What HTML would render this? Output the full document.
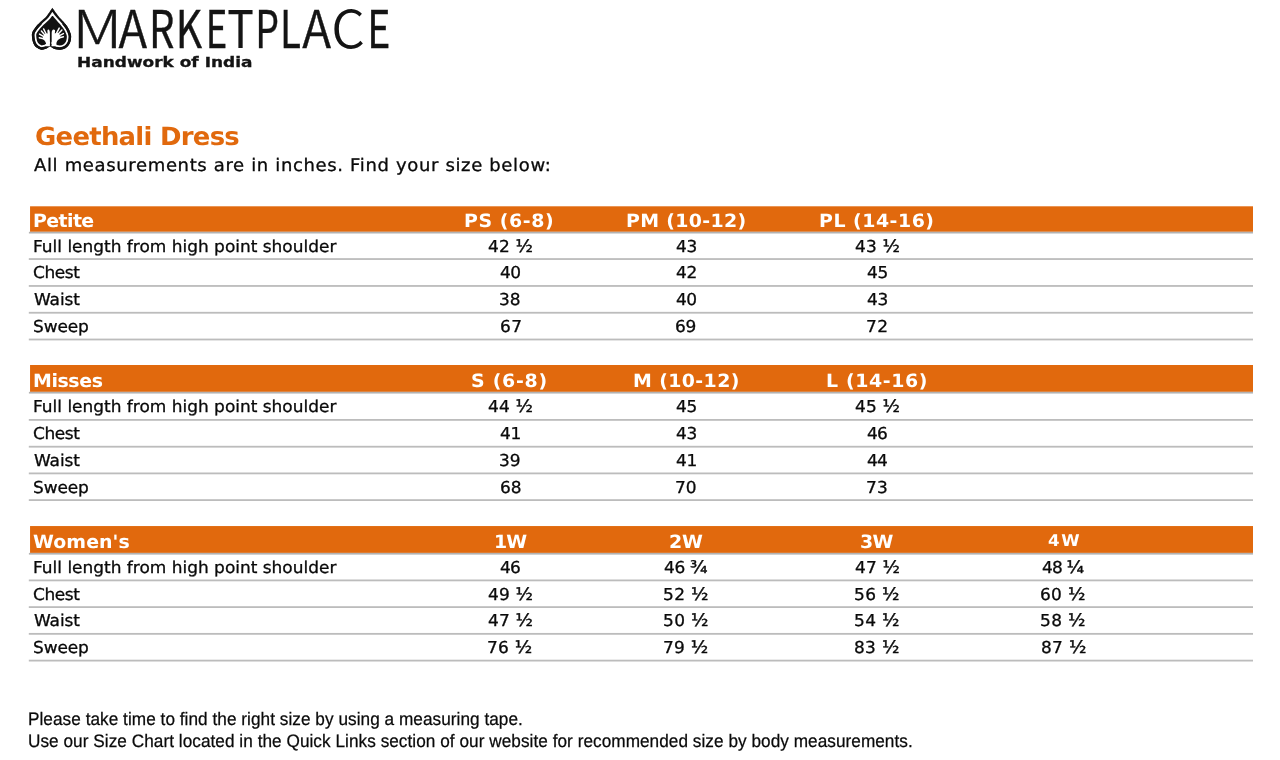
<!DOCTYPE html>
<html lang="en"><head><meta charset="utf-8"><title>Geethali Dress - Size Chart</title>
<style>
html,body{margin:0;padding:0;background:#fff;}
body{width:1280px;height:760px;position:relative;overflow:hidden;font-family:"DejaVu Sans", "Liberation Sans", sans-serif;}
.t{position:absolute;white-space:pre;text-rendering:geometricPrecision;display:block;transform-origin:0 100%;transform:translateY(-100%);}
.v{transform:translateY(-100%) scaleX(1.035);-webkit-text-stroke:0.3px currentColor;}
.b{-webkit-text-stroke:0;}
.a{transform:translateY(-100%) scaleX(0.955);-webkit-text-stroke:0.25px currentColor;}
.f{font-size:1.06em;-webkit-text-stroke:0.45px currentColor;}
#logo,#rules{position:absolute;left:0;top:0;}
</style></head><body>
<svg id="logo" width="420" height="80" viewBox="0 0 420 80">
<g id="leaf">
<defs><clipPath id="lc2"><rect x="28" y="24" width="48" height="30"/></clipPath><clipPath id="lc"><path id="lp" d="M52.35,7.75 C53.34,9.11 56.42,13.56 58.30,15.90 C60.17,18.24 61.98,19.83 63.60,21.80 C65.22,23.77 66.95,26.05 68.00,27.70 C69.05,29.35 69.38,30.35 69.90,31.70 C70.42,33.05 70.98,34.25 71.10,35.80 C71.22,37.35 70.98,39.47 70.60,41.00 C70.22,42.53 69.67,43.80 68.80,45.00 C67.93,46.20 66.82,47.42 65.40,48.20 C63.98,48.98 61.92,49.53 60.30,49.70 C58.68,49.87 56.98,49.50 55.70,49.20 C54.42,48.90 53.52,48.38 52.60,47.90 C51.68,47.42 50.60,46.57 50.20,46.30 C49.80,46.53 48.67,47.23 47.80,47.70 C46.93,48.17 46.12,48.77 45.00,49.10 C43.88,49.43 42.43,49.92 41.10,49.70 C39.77,49.48 38.12,48.55 37.00,47.80 C35.88,47.05 35.10,46.23 34.40,45.20 C33.70,44.17 33.22,43.23 32.80,41.60 C32.38,39.97 31.93,37.05 31.90,35.40 C31.87,33.75 32.05,32.98 32.60,31.70 C33.15,30.42 33.88,29.35 35.20,27.70 C36.52,26.05 38.58,23.77 40.50,21.80 C42.42,19.83 44.73,18.24 46.70,15.90 C48.68,13.56 51.41,9.11 52.35,7.75 Z"/></clipPath></defs>
<g clip-path="url(#lc)" stroke-linejoin="miter" stroke-miterlimit="10">
<use href="#lp" fill="#111" stroke="#fff" stroke-width="8.6"/>
<use href="#lp" fill="none" stroke="#111" stroke-width="4.6"/>
<use href="#lp" fill="none" stroke="#111" stroke-width="5.1" clip-path="url(#lc2)"/>
</g>
<g fill="#fff">
<path d="M49.9,46.2 L49.9,33 C49.9,31 49.4,29.6 48.5,29.4 C47.6,29.3 47.3,30.2 47.4,31.2 L47.6,33.6 L46.2,33.4 C44.4,34 43.2,35.4 42.9,37 C42.7,38.2 43,39.2 43.6,39.8 C44.8,40.8 45.8,42 46,43.6 C46.1,44.8 45.8,45.6 45.2,46.2 Z"/>
<path d="M51.5,46.2 L51.5,33 C51.5,31 52.4,29.6 53.6,29.4 C54.8,29.4 55.2,30.2 55.1,31.2 L54.8,33.4 L56.4,32.8 C58.4,33 60,34.4 60.4,36.2 C60.6,37.4 60.2,38.4 59.4,39 C57.8,39.8 56.6,41.4 56.4,43.2 C56.3,44.6 56.8,45.6 57.6,46.2 Z"/>
</g>
<path d="M46.2,34 L43.6,28.9 M44.8,35 L41.4,31.1 M43.8,36.6 L39.5,34.1 M43.6,38.8 L39.3,37.7 M56.6,33.2 L59.2,28.1 M58.2,34 L61.9,30.1 M59.4,35.6 L63.4,33.6 M59.8,37.8 L63.4,36.8" stroke="#fff" stroke-linecap="round" fill="none" stroke-width="1.45"/>
<path d="M50.7,29 L50.7,45" stroke="#111" stroke-width="1.3" fill="none"/>
</g>
<text id="mk" y="47.85" font-family="'Noto Sans CJK JP', 'Noto Sans CJK SC', 'DejaVu Sans', 'Liberation Sans', sans-serif" font-size="51.8" fill="#141414"><tspan font-weight="300" stroke="#141414" stroke-width="0.4" x="72.28" textLength="50.24" lengthAdjust="spacingAndGlyphs">M</tspan><tspan font-weight="350" stroke="#141414" stroke-width="0.4" x="118.45" textLength="28.61" lengthAdjust="spacingAndGlyphs">A</tspan><tspan font-weight="400" stroke="#141414" stroke-width="0.4" x="149.10" textLength="25.46" lengthAdjust="spacingAndGlyphs">R</tspan><tspan font-weight="400" stroke="#141414" stroke-width="0.4" x="175.63" textLength="26.37" lengthAdjust="spacingAndGlyphs">K</tspan><tspan font-weight="400" stroke="#141414" stroke-width="0.4" x="205.85" textLength="21.52" lengthAdjust="spacingAndGlyphs">E</tspan><tspan font-weight="400" stroke="#141414" stroke-width="0.2" x="227.31" textLength="26.58" lengthAdjust="spacingAndGlyphs">T</tspan><tspan font-weight="400" stroke="#141414" stroke-width="0.4" x="255.36" textLength="23.73" lengthAdjust="spacingAndGlyphs">P</tspan><tspan font-weight="400" stroke="#141414" stroke-width="0.4" x="279.96" textLength="20.91" lengthAdjust="spacingAndGlyphs">L</tspan><tspan font-weight="350" stroke="#141414" stroke-width="0.4" x="302.25" textLength="28.81" lengthAdjust="spacingAndGlyphs">A</tspan><tspan font-weight="350" x="331.37" textLength="33.59" lengthAdjust="spacingAndGlyphs">C</tspan><tspan font-weight="400" stroke="#141414" stroke-width="0.4" x="367.29" textLength="23.12" lengthAdjust="spacingAndGlyphs">E</tspan></text>
<text id="hw" x="77.1" y="66.9" stroke="#141414" stroke-width="0.3" font-family="'DejaVu Sans', 'Liberation Sans', sans-serif" font-weight="700" font-size="13.3" fill="#141414" textLength="175.3" lengthAdjust="spacingAndGlyphs">Handwork of India</text>
</svg>

<svg id="rules" width="1280" height="760" viewBox="0 0 1280 760">
<rect x="30.05" y="206.30" width="1222.95" height="25.50" fill="#e1690d"/>
<rect x="28.9" y="231.80" width="1224.1" height="1.7" fill="#b2b2b2"/>
<rect x="28.8" y="258.15" width="1224.2" height="1.8" fill="#bcbcbc"/>
<rect x="28.8" y="285.05" width="1224.2" height="1.8" fill="#bcbcbc"/>
<rect x="28.8" y="311.85" width="1224.2" height="1.8" fill="#bcbcbc"/>
<rect x="28.8" y="338.60" width="1224.2" height="1.8" fill="#bcbcbc"/>
<rect x="30.05" y="365.00" width="1222.95" height="26.85" fill="#e1690d"/>
<rect x="28.9" y="391.85" width="1224.1" height="1.7" fill="#b2b2b2"/>
<rect x="28.8" y="419.00" width="1224.2" height="1.8" fill="#bcbcbc"/>
<rect x="28.8" y="445.80" width="1224.2" height="1.8" fill="#bcbcbc"/>
<rect x="28.8" y="472.50" width="1224.2" height="1.8" fill="#bcbcbc"/>
<rect x="28.8" y="499.20" width="1224.2" height="1.8" fill="#bcbcbc"/>
<rect x="30.05" y="526.05" width="1222.95" height="26.85" fill="#e1690d"/>
<rect x="28.9" y="552.90" width="1224.1" height="1.7" fill="#b2b2b2"/>
<rect x="28.8" y="579.50" width="1224.2" height="1.8" fill="#bcbcbc"/>
<rect x="28.8" y="606.20" width="1224.2" height="1.8" fill="#bcbcbc"/>
<rect x="28.8" y="632.95" width="1224.2" height="1.8" fill="#bcbcbc"/>
<rect x="28.8" y="659.70" width="1224.2" height="1.8" fill="#bcbcbc"/>
</svg>
<span class="t v b" style='font:700 25px/1 "DejaVu Sans", "Liberation Sans", sans-serif;color:#e1690d;left:35.19px;top:149.00px;letter-spacing:-0.680px;'>Geethali Dress</span>
<span class="t v" style='font:400 17.4px/1 "DejaVu Sans", "Liberation Sans", sans-serif;color:#0a0a0a;left:33.95px;top:175.41px;letter-spacing:0.629px;'>All measurements are in inches. Find your size below:</span>
<span class="t v b" style='font:700 18.3px/1 "DejaVu Sans", "Liberation Sans", sans-serif;color:#fff;left:33.13px;top:231.30px;letter-spacing:-0.562px;'>Petite</span>
<span class="t v b" style='font:700 18.3px/1 "DejaVu Sans", "Liberation Sans", sans-serif;color:#fff;left:464.22px;top:231.30px;letter-spacing:0.567px;'>PS (6-8)</span>
<span class="t v b" style='font:700 18.3px/1 "DejaVu Sans", "Liberation Sans", sans-serif;color:#fff;left:625.99px;top:231.30px;letter-spacing:0.335px;'>PM (10-12)</span>
<span class="t v b" style='font:700 18.3px/1 "DejaVu Sans", "Liberation Sans", sans-serif;color:#fff;left:819.22px;top:231.30px;letter-spacing:0.502px;'>PL (14-16)</span>
<span class="t v" style='font:400 16.4px/1 "DejaVu Sans", "Liberation Sans", sans-serif;color:#0a0a0a;left:32.72px;top:255.41px;'>Full length from high point shoulder</span>
<span class="t v" style='font:400 16.4px/1 "DejaVu Sans", "Liberation Sans", sans-serif;color:#0a0a0a;left:488.42px;top:256.41px;letter-spacing:0.132px;'>42 <span class="f">½</span></span>
<span class="t v" style='font:400 16.4px/1 "DejaVu Sans", "Liberation Sans", sans-serif;color:#0a0a0a;left:675.65px;top:255.41px;letter-spacing:-0.403px;'>43</span>
<span class="t v" style='font:400 16.4px/1 "DejaVu Sans", "Liberation Sans", sans-serif;color:#0a0a0a;left:854.96px;top:256.41px;letter-spacing:0.132px;'>43 <span class="f">½</span></span>
<span class="t v" style='font:400 16.4px/1 "DejaVu Sans", "Liberation Sans", sans-serif;color:#0a0a0a;left:33.35px;top:281.41px;letter-spacing:-0.415px;'>Chest</span>
<span class="t v" style='font:400 16.4px/1 "DejaVu Sans", "Liberation Sans", sans-serif;color:#0a0a0a;left:500.01px;top:281.41px;letter-spacing:-0.547px;'>40</span>
<span class="t v" style='font:400 16.4px/1 "DejaVu Sans", "Liberation Sans", sans-serif;color:#0a0a0a;left:675.51px;top:281.41px;letter-spacing:-0.193px;'>42</span>
<span class="t v" style='font:400 16.4px/1 "DejaVu Sans", "Liberation Sans", sans-serif;color:#0a0a0a;left:866.94px;top:281.41px;letter-spacing:-0.184px;'>45</span>
<span class="t v" style='font:400 16.4px/1 "DejaVu Sans", "Liberation Sans", sans-serif;color:#0a0a0a;left:33.89px;top:308.41px;letter-spacing:-0.088px;'>Waist</span>
<span class="t v" style='font:400 16.4px/1 "DejaVu Sans", "Liberation Sans", sans-serif;color:#0a0a0a;left:499.24px;top:308.41px;letter-spacing:-0.061px;'>38</span>
<span class="t v" style='font:400 16.4px/1 "DejaVu Sans", "Liberation Sans", sans-serif;color:#0a0a0a;left:675.51px;top:308.41px;letter-spacing:-0.547px;'>40</span>
<span class="t v" style='font:400 16.4px/1 "DejaVu Sans", "Liberation Sans", sans-serif;color:#0a0a0a;left:866.85px;top:308.41px;letter-spacing:-0.403px;'>43</span>
<span class="t v" style='font:400 16.4px/1 "DejaVu Sans", "Liberation Sans", sans-serif;color:#0a0a0a;left:33.22px;top:335.41px;letter-spacing:-0.112px;'>Sweep</span>
<span class="t v" style='font:400 16.4px/1 "DejaVu Sans", "Liberation Sans", sans-serif;color:#0a0a0a;left:500.12px;top:335.41px;letter-spacing:0.469px;'>67</span>
<span class="t v" style='font:400 16.4px/1 "DejaVu Sans", "Liberation Sans", sans-serif;color:#0a0a0a;left:674.78px;top:335.41px;letter-spacing:-0.174px;'>69</span>
<span class="t v" style='font:400 16.4px/1 "DejaVu Sans", "Liberation Sans", sans-serif;color:#0a0a0a;left:865.52px;top:335.41px;letter-spacing:0.441px;'>72</span>
<span class="t v b" style='font:700 18.3px/1 "DejaVu Sans", "Liberation Sans", sans-serif;color:#fff;left:33.13px;top:391.30px;letter-spacing:-0.389px;'>Misses</span>
<span class="t v b" style='font:700 18.3px/1 "DejaVu Sans", "Liberation Sans", sans-serif;color:#fff;left:471.19px;top:391.30px;letter-spacing:0.723px;'>S (6-8)</span>
<span class="t v b" style='font:700 18.3px/1 "DejaVu Sans", "Liberation Sans", sans-serif;color:#fff;left:632.99px;top:391.30px;letter-spacing:0.377px;'>M (10-12)</span>
<span class="t v b" style='font:700 18.3px/1 "DejaVu Sans", "Liberation Sans", sans-serif;color:#fff;left:825.77px;top:391.30px;letter-spacing:0.600px;'>L (14-16)</span>
<span class="t v" style='font:400 16.4px/1 "DejaVu Sans", "Liberation Sans", sans-serif;color:#0a0a0a;left:32.72px;top:415.41px;'>Full length from high point shoulder</span>
<span class="t v" style='font:400 16.4px/1 "DejaVu Sans", "Liberation Sans", sans-serif;color:#0a0a0a;left:488.42px;top:416.41px;letter-spacing:0.132px;'>44 <span class="f">½</span></span>
<span class="t v" style='font:400 16.4px/1 "DejaVu Sans", "Liberation Sans", sans-serif;color:#0a0a0a;left:675.98px;top:415.41px;letter-spacing:-0.184px;'>45</span>
<span class="t v" style='font:400 16.4px/1 "DejaVu Sans", "Liberation Sans", sans-serif;color:#0a0a0a;left:854.96px;top:416.41px;letter-spacing:0.132px;'>45 <span class="f">½</span></span>
<span class="t v" style='font:400 16.4px/1 "DejaVu Sans", "Liberation Sans", sans-serif;color:#0a0a0a;left:33.35px;top:442.41px;letter-spacing:-0.415px;'>Chest</span>
<span class="t v" style='font:400 16.4px/1 "DejaVu Sans", "Liberation Sans", sans-serif;color:#0a0a0a;left:500.37px;top:442.41px;letter-spacing:-0.249px;'>41</span>
<span class="t v" style='font:400 16.4px/1 "DejaVu Sans", "Liberation Sans", sans-serif;color:#0a0a0a;left:675.65px;top:442.41px;letter-spacing:-0.403px;'>43</span>
<span class="t v" style='font:400 16.4px/1 "DejaVu Sans", "Liberation Sans", sans-serif;color:#0a0a0a;left:866.68px;top:442.41px;letter-spacing:-0.682px;'>46</span>
<span class="t v" style='font:400 16.4px/1 "DejaVu Sans", "Liberation Sans", sans-serif;color:#0a0a0a;left:33.89px;top:469.41px;letter-spacing:-0.088px;'>Waist</span>
<span class="t v" style='font:400 16.4px/1 "DejaVu Sans", "Liberation Sans", sans-serif;color:#0a0a0a;left:499.25px;top:469.41px;letter-spacing:0.014px;'>39</span>
<span class="t v" style='font:400 16.4px/1 "DejaVu Sans", "Liberation Sans", sans-serif;color:#0a0a0a;left:676.03px;top:469.41px;letter-spacing:-0.249px;'>41</span>
<span class="t v" style='font:400 16.4px/1 "DejaVu Sans", "Liberation Sans", sans-serif;color:#0a0a0a;left:866.67px;top:469.41px;letter-spacing:-0.736px;'>44</span>
<span class="t v" style='font:400 16.4px/1 "DejaVu Sans", "Liberation Sans", sans-serif;color:#0a0a0a;left:33.22px;top:496.41px;letter-spacing:-0.112px;'>Sweep</span>
<span class="t v" style='font:400 16.4px/1 "DejaVu Sans", "Liberation Sans", sans-serif;color:#0a0a0a;left:499.92px;top:496.41px;letter-spacing:0.052px;'>68</span>
<span class="t v" style='font:400 16.4px/1 "DejaVu Sans", "Liberation Sans", sans-serif;color:#0a0a0a;left:674.53px;top:496.41px;letter-spacing:-0.049px;'>70</span>
<span class="t v" style='font:400 16.4px/1 "DejaVu Sans", "Liberation Sans", sans-serif;color:#0a0a0a;left:866.06px;top:496.41px;letter-spacing:0.108px;'>73</span>
<span class="t v b" style='font:700 18.3px/1 "DejaVu Sans", "Liberation Sans", sans-serif;color:#fff;left:33.40px;top:552.30px;letter-spacing:0.075px;'>Women's</span>
<span class="t v b" style='font:700 18.3px/1 "DejaVu Sans", "Liberation Sans", sans-serif;color:#fff;left:493.62px;top:552.30px;letter-spacing:-0.949px;'>1W</span>
<span class="t v b" style='font:700 18.3px/1 "DejaVu Sans", "Liberation Sans", sans-serif;color:#fff;left:669.11px;top:552.30px;letter-spacing:-0.048px;'>2W</span>
<span class="t v b" style='font:700 18.3px/1 "DejaVu Sans", "Liberation Sans", sans-serif;color:#fff;left:859.84px;top:552.30px;letter-spacing:-0.639px;'>3W</span>
<span class="t v b" style='font:700 16.1px/1 "DejaVu Sans", "Liberation Sans", sans-serif;color:#fff;left:1048.31px;top:549.11px;letter-spacing:1.502px;'>4W</span>
<span class="t v" style='font:400 16.4px/1 "DejaVu Sans", "Liberation Sans", sans-serif;color:#0a0a0a;left:32.72px;top:576.41px;'>Full length from high point shoulder</span>
<span class="t v" style='font:400 16.4px/1 "DejaVu Sans", "Liberation Sans", sans-serif;color:#0a0a0a;left:499.99px;top:576.41px;letter-spacing:-0.682px;'>46</span>
<span class="t v" style='font:400 16.4px/1 "DejaVu Sans", "Liberation Sans", sans-serif;color:#0a0a0a;left:664.09px;top:577.41px;letter-spacing:-0.301px;'>46 <span class="f">¾</span></span>
<span class="t v" style='font:400 16.4px/1 "DejaVu Sans", "Liberation Sans", sans-serif;color:#0a0a0a;left:854.96px;top:577.41px;letter-spacing:0.132px;'>47 <span class="f">½</span></span>
<span class="t v" style='font:400 16.4px/1 "DejaVu Sans", "Liberation Sans", sans-serif;color:#0a0a0a;left:1042.01px;top:577.41px;letter-spacing:-0.786px;'>48 <span class="f">¼</span></span>
<span class="t v" style='font:400 16.4px/1 "DejaVu Sans", "Liberation Sans", sans-serif;color:#0a0a0a;left:33.35px;top:603.41px;letter-spacing:-0.415px;'>Chest</span>
<span class="t v" style='font:400 16.4px/1 "DejaVu Sans", "Liberation Sans", sans-serif;color:#0a0a0a;left:488.42px;top:604.41px;letter-spacing:0.132px;'>49 <span class="f">½</span></span>
<span class="t v" style='font:400 16.4px/1 "DejaVu Sans", "Liberation Sans", sans-serif;color:#0a0a0a;left:663.31px;top:604.41px;letter-spacing:0.340px;'>52 <span class="f">½</span></span>
<span class="t v" style='font:400 16.4px/1 "DejaVu Sans", "Liberation Sans", sans-serif;color:#0a0a0a;left:854.05px;top:604.41px;letter-spacing:0.340px;'>56 <span class="f">½</span></span>
<span class="t v" style='font:400 16.4px/1 "DejaVu Sans", "Liberation Sans", sans-serif;color:#0a0a0a;left:1040.37px;top:604.41px;letter-spacing:0.317px;'>60 <span class="f">½</span></span>
<span class="t v" style='font:400 16.4px/1 "DejaVu Sans", "Liberation Sans", sans-serif;color:#0a0a0a;left:33.89px;top:629.41px;letter-spacing:-0.088px;'>Waist</span>
<span class="t v" style='font:400 16.4px/1 "DejaVu Sans", "Liberation Sans", sans-serif;color:#0a0a0a;left:488.42px;top:630.41px;letter-spacing:0.132px;'>47 <span class="f">½</span></span>
<span class="t v" style='font:400 16.4px/1 "DejaVu Sans", "Liberation Sans", sans-serif;color:#0a0a0a;left:663.31px;top:630.41px;letter-spacing:0.340px;'>50 <span class="f">½</span></span>
<span class="t v" style='font:400 16.4px/1 "DejaVu Sans", "Liberation Sans", sans-serif;color:#0a0a0a;left:854.05px;top:630.41px;letter-spacing:0.340px;'>54 <span class="f">½</span></span>
<span class="t v" style='font:400 16.4px/1 "DejaVu Sans", "Liberation Sans", sans-serif;color:#0a0a0a;left:1040.47px;top:630.41px;letter-spacing:0.340px;'>58 <span class="f">½</span></span>
<span class="t v" style='font:400 16.4px/1 "DejaVu Sans", "Liberation Sans", sans-serif;color:#0a0a0a;left:33.22px;top:656.41px;letter-spacing:-0.112px;'>Sweep</span>
<span class="t v" style='font:400 16.4px/1 "DejaVu Sans", "Liberation Sans", sans-serif;color:#0a0a0a;left:487.10px;top:657.41px;letter-spacing:0.275px;'>76 <span class="f">½</span></span>
<span class="t v" style='font:400 16.4px/1 "DejaVu Sans", "Liberation Sans", sans-serif;color:#0a0a0a;left:662.60px;top:657.41px;letter-spacing:0.275px;'>79 <span class="f">½</span></span>
<span class="t v" style='font:400 16.4px/1 "DejaVu Sans", "Liberation Sans", sans-serif;color:#0a0a0a;left:854.11px;top:657.41px;letter-spacing:0.319px;'>83 <span class="f">½</span></span>
<span class="t v" style='font:400 16.4px/1 "DejaVu Sans", "Liberation Sans", sans-serif;color:#0a0a0a;left:1040.87px;top:657.41px;letter-spacing:0.319px;'>87 <span class="f">½</span></span>
<span class="t a" style='font:400 18px/1 "Liberation Sans", sans-serif;color:#0a0a0a;left:28.46px;top:728.00px;letter-spacing:0.044px;'>Please take time to find the right size by using a measuring tape.</span>
<span class="t a" style='font:400 18px/1 "Liberation Sans", sans-serif;color:#0a0a0a;left:27.72px;top:750.00px;letter-spacing:0.045px;'>Use our Size Chart located in the Quick Links section of our website for recommended size by body measurements.</span>
</body></html>
